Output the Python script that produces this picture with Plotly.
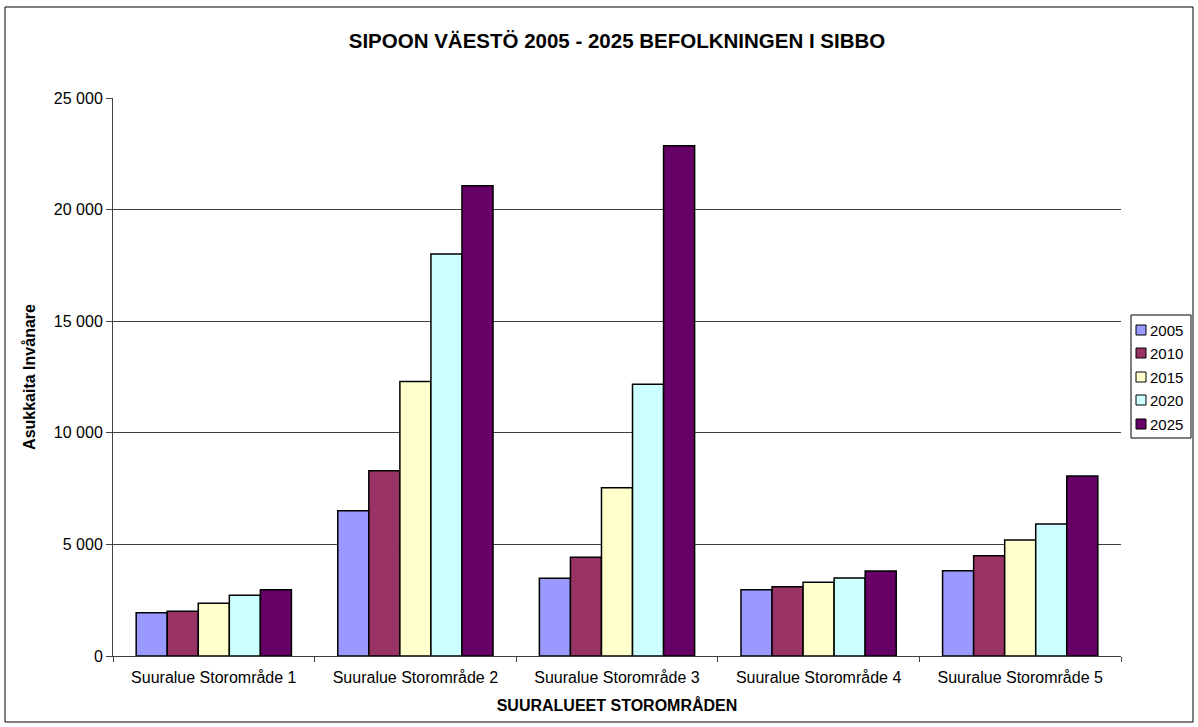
import plotly.graph_objects as go

# Population by major district and year
categories = [
    "Suuralue Storområde 1",
    "Suuralue Storområde 2",
    "Suuralue Storområde 3",
    "Suuralue Storområde 4",
    "Suuralue Storområde 5",
]
years = ["2005", "2010", "2015", "2020", "2025"]
pop_2005 = [1940, 6510, 3480, 2970, 3820]
pop_2010 = [2000, 8300, 4420, 3100, 4490]
pop_2015 = [2360, 12300, 7540, 3300, 5200]
pop_2020 = [2720, 18010, 12170, 3490, 5910]
pop_2025 = [2970, 21070, 22860, 3810, 8060]
series = [pop_2005, pop_2010, pop_2015, pop_2020, pop_2025]
colors = ["#9999FF", "#993366", "#FFFFCC", "#CCFFFF", "#660066"]

W, H = 1198, 727
L, R, T, B = 113, 77, 98, 71
pw, ph = W - L - R, H - T - B


def px_x(v):
    return (v - L) / pw


def px_y(v):
    return (H - B - v) / ph


fig = go.Figure()
for name, vals, col in zip(years, series, colors):
    fig.add_trace(go.Bar(
        x=categories, y=vals, name=name, showlegend=False,
        marker=dict(color=col, line=dict(color="#000000", width=1.5)),
    ))

shapes = []
annotations = []

# outer chart frame
shapes.append(dict(type="rect", xref="paper", yref="paper",
                   x0=px_x(5), x1=px_x(1193), y0=px_y(722), y1=px_y(7),
                   line=dict(color="#000000", width=1), layer="below"))

# legend box with a colour key per year
shapes.append(dict(type="rect", xref="paper", yref="paper",
                   x0=px_x(1131), x1=px_x(1191), y0=px_y(438), y1=px_y(315),
                   line=dict(color="#000000", width=1), fillcolor="white"))
row_y = [330, 353, 377, 400, 424]
for name, col, yy in zip(years, colors, row_y):
    shapes.append(dict(type="rect", xref="paper", yref="paper",
                       x0=px_x(1136), x1=px_x(1146), y0=px_y(yy + 5), y1=px_y(yy - 5),
                       line=dict(color="#000000", width=1), fillcolor=col))
    annotations.append(dict(text=name, xref="paper", yref="paper",
                            x=px_x(1148), y=px_y(yy), xanchor="left", yanchor="middle",
                            showarrow=False, font=dict(size=15)))

fig.update_layout(
    width=W, height=H,
    margin=dict(l=L, r=R, t=T, b=B, autoexpand=False),
    paper_bgcolor="white", plot_bgcolor="white",
    separators=", ",
    font=dict(family="Liberation Sans, Arial, sans-serif", size=16, color="#000000"),
    barmode="group", bargap=0.23, bargroupgap=0,
    showlegend=False,
    title=dict(text="<b>SIPOON VÄESTÖ 2005 - 2025 BEFOLKNINGEN I SIBBO</b>",
               x=(L + pw / 2) / W, xref="container", xanchor="center",
               y=1 - 41 / H, yref="container", yanchor="middle",
               font=dict(size=20.5)),
    xaxis=dict(
        showline=True, linecolor="#404040", linewidth=1,
        ticks="outside", ticklen=5, tickcolor="#404040", tickson="boundaries",
        showgrid=False, ticklabelstandoff=7,
        title=dict(text="<b>SUURALUEET STOROMRÅDEN</b>", font=dict(size=16), standoff=14),
        tickfont=dict(size=16),
    ),
    yaxis=dict(
        range=[0, 25000], tickvals=[0, 5000, 10000, 15000, 20000, 25000],
        tickformat=",d",
        showline=True, linecolor="#404040", linewidth=1,
        ticks="outside", ticklen=6, tickcolor="#404040",
        showgrid=True, gridcolor="#404040", gridwidth=1,
        zeroline=False,
        title=dict(text="<b>Asukkaita Invånare</b>", font=dict(size=16), standoff=14),
        tickfont=dict(size=16),
    ),
    shapes=shapes,
    annotations=annotations,
)

fig.write_html("out.html")
